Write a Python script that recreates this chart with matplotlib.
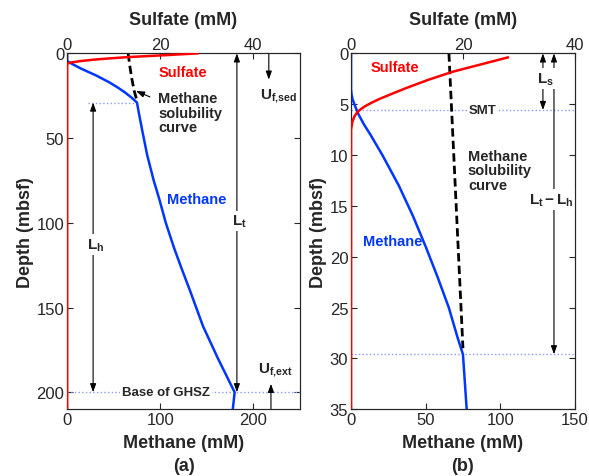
import numpy as np
import matplotlib
matplotlib.use("Agg")
import matplotlib.pyplot as plt

plt.rcParams['font.family'] = ['Liberation Sans', 'DejaVu Sans']
plt.rcParams['mathtext.fontset'] = 'custom'
plt.rcParams['mathtext.bf'] = 'Liberation Sans:bold'
plt.rcParams['mathtext.rm'] = 'Liberation Sans'
plt.rcParams['mathtext.it'] = 'Liberation Sans:italic'

TXT = '#262626'
RED = '#ff0000'
BLUE = '#0036ff'
DOT = '#8899ff'

# ---- panel (a) data ----
a_sulf_depth = [0, 1, 2.2, 3.5, 4.5, 5.3, 6, 210]
a_sulf = [28, 21.5, 13, 6.5, 3, 1, 0, 0]
a_meth_depth = [0, 4.5, 5.5, 7, 9, 11, 13, 15, 17, 20, 23, 26, 29,
                35, 45, 60, 75, 86, 100, 115, 127, 140, 161, 180, 200, 210]
a_meth = [0, 0, 3, 8, 15, 23, 31, 38, 45, 54, 62, 69, 75,
          77, 80.5, 86, 93, 99, 106, 115, 123, 132, 146, 162, 180, 178]
a_sol_depth = [0, 8, 15, 22, 28]
a_sol = [65.5, 67.5, 69.5, 72, 75]

# ---- panel (b) data ----
b_sulf_depth = [0.4, 1.0, 1.8, 2.6, 3.4, 4.0, 4.5, 4.9, 5.2, 5.5, 5.8, 6.2, 6.7, 7.5, 35]
b_sulf = [28, 23.8, 18.2, 13.8, 9.9, 7.2, 5.0, 3.5, 2.5, 1.7, 1.1, 0.6, 0.25, 0, 0]
b_meth_depth = [0, 3.5, 4.0, 4.5, 5.0, 5.5, 6.0, 7.0, 8.0, 10, 13, 16, 19, 22, 25, 28, 29.6, 35]
b_meth = [0, 0, 0.3, 1, 2.2, 3.6, 5, 8.7, 13, 21, 32, 41.5, 50, 58, 65.5, 71.5, 75, 77.5]
b_sol_depth = [0, 29]
b_sol = [65.6, 75]

fig = plt.figure(figsize=(5.89, 4.77), dpi=100)


def make_axes(rect, xlim_m, xt_m, xlim_s, xt_s, ylim, yt):
    ax = fig.add_axes(rect)
    ax.set_xlim(*xlim_m)
    ax.set_ylim(ylim[1], ylim[0])
    ax.set_xticks(xt_m)
    ax.set_yticks(yt)
    ax.tick_params(direction='in', length=4, labelsize=12, colors=TXT,
                   right=True, top=False, pad=2)
    ax.set_xlabel('Methane (mM)', fontsize=13, fontweight='bold', color=TXT, labelpad=5)
    ax.set_ylabel('Depth (mbsf)', fontsize=13, fontweight='bold', color=TXT, labelpad=2)
    ax2 = ax.twiny()
    ax2.set_xlim(*xlim_s)
    ax2.set_xticks(xt_s)
    ax2.tick_params(direction='in', length=4, labelsize=12, colors=TXT, pad=1)
    ax2.set_xlabel('Sulfate (mM)', fontsize=13, fontweight='bold', color=TXT, labelpad=9)
    for a in (ax, ax2):
        for sp in a.spines.values():
            sp.set_color(TXT)
            sp.set_linewidth(0.8)
    return ax, ax2


def dbl_arrow(ax, x, y0, y1):
    ax.annotate('', xy=(x, y0), xytext=(x, y1),
                arrowprops=dict(arrowstyle='<|-|>,head_length=0.5,head_width=0.18',
                                color='black', lw=0.8, shrinkA=0, shrinkB=0))


def one_arrow(ax, x, y_from, y_to):
    ax.annotate('', xy=(x, y_to), xytext=(x, y_from),
                arrowprops=dict(arrowstyle='-|>,head_length=0.5,head_width=0.18',
                                color='black', lw=0.8, shrinkA=0, shrinkB=0))


def label(ax, x, y, s, size=10, color=TXT, box=True, **kw):
    bb = dict(fc='white', ec='none', pad=1.5) if box else None
    ax.text(x, y, s, fontsize=size, fontweight='bold', color=color,
            ha=kw.pop('ha', 'center'), va=kw.pop('va', 'center'), bbox=bb, zorder=5, **kw)


# ================= panel (a) =================
axa, axa2 = make_axes([0.114, 0.140, 0.395, 0.746], (0, 250), [0, 100, 200],
                      (0, 50), [0, 20, 40], (0, 210), [0, 50, 100, 150, 200])

axa.plot([22.5, 75], [29, 29], ls=':', color=DOT, lw=1)
axa.plot([0, 250], [200, 200], ls=':', color=DOT, lw=1)
axa.plot(a_meth, a_meth_depth, color=BLUE, lw=1.8, zorder=3)
sol_a, = axa.plot(a_sol, a_sol_depth, color='black', lw=2, zorder=3)
sol_a.set_dashes([3, 1.5])
axa2.plot(a_sulf, a_sulf_depth, color=RED, lw=1.8, zorder=3)

dbl_arrow(axa, 182.4, 0, 200)
dbl_arrow(axa, 27.9, 29, 200)
one_arrow(axa, 216.7, 0, 15.5)
one_arrow(axa, 219, 210, 195)
axa.annotate('', xy=(74, 22.2), xytext=(89, 25.7),
             arrowprops=dict(arrowstyle='-|>,head_length=0.5,head_width=0.18',
                             color='black', lw=0.8, shrinkA=0, shrinkB=0))

label(axa, 185, 99, r'$\mathbf{L_t}$', size=11)
label(axa, 31, 112.7, r'$\mathbf{L_h}$', size=11)
label(axa, 106, 200, 'Base of GHSZ', size=9.5)
label(axa, 227, 25, r'$\mathbf{U_{f{,}sed}}$', size=11, box=False)
label(axa, 224, 186.5, r'$\mathbf{U_{f{,}ext}}$', size=11, box=False)
label(axa, 124.5, 11, 'Sulfate', size=10.5, color=RED, box=False)
label(axa, 97.6, 35, 'Methane\nsolubility\ncurve', size=10.5, box=False,
      ha='left', linespacing=1.05)
label(axa, 139.5, 86, 'Methane', size=10.5, color=BLUE, box=False)

# ================= panel (b) =================
axb, axb2 = make_axes([0.596, 0.140, 0.380, 0.746], (0, 150), [0, 50, 100, 150],
                      (0, 40), [0, 20, 40], (0, 35), [0, 5, 10, 15, 20, 25, 30, 35])

axb.plot([0, 150], [5.57, 5.57], ls=':', color=DOT, lw=1)
axb.plot([0, 150], [29.6, 29.6], ls=':', color=DOT, lw=1)
axb.plot(b_meth, b_meth_depth, color=BLUE, lw=1.8, zorder=3)
sol_b, = axb.plot(b_sol, b_sol_depth, color='black', lw=2, zorder=3)
sol_b.set_dashes([3, 1.5])
axb2.plot(b_sulf, b_sulf_depth, color=RED, lw=1.8, zorder=3)

dbl_arrow(axb, 128.6, 0, 5.57)
dbl_arrow(axb, 136, 0, 29.6)

label(axb, 130.6, 2.5, r'$\mathbf{L_s}$', size=11)
label(axb, 134, 14.4, r'$\mathbf{L_t - L_h}$', size=11)
label(axb, 88.4, 5.58, 'SMT', size=9.5)
label(axb, 29.5, 1.33, 'Sulfate', size=10.5, color=RED, box=False)
label(axb, 78.3, 11.5, 'Methane\nsolubility\ncurve', size=10.5, box=False,
      ha='left', linespacing=1.05)
label(axb, 28, 18.5, 'Methane', size=10.5, color=BLUE, box=False)

fig.text(0.312, 0.012, '(a)', fontsize=13, fontweight='bold', color=TXT, ha='center')
fig.text(0.786, 0.012, '(b)', fontsize=13, fontweight='bold', color=TXT, ha='center')

fig.savefig('out.png', dpi=100)
